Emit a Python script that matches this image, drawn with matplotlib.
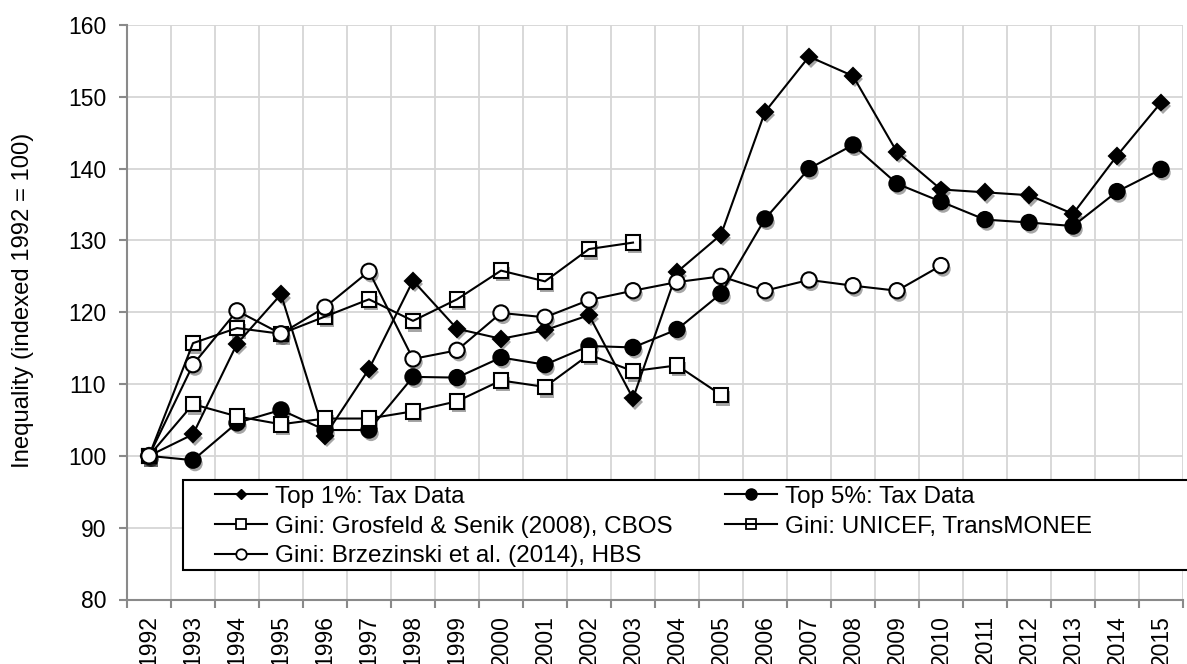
import numpy as np
import matplotlib
matplotlib.use("Agg")
import matplotlib.pyplot as plt
import matplotlib.patheffects as pe
from matplotlib.lines import Line2D
from matplotlib.patches import Rectangle

plt.rcParams['font.family'] = ['Liberation Sans', 'DejaVu Sans']

years = [str(y) for y in range(1992, 2016)]
top1 = [100, 103.0, 115.6, 122.5, 102.8, 112.1, 124.4, 117.7, 116.3, 117.5, 119.6, 108.0,
        125.6, 130.8, 147.9, 155.6, 152.9, 142.3, 137.1, 136.7, 136.3, 133.7, 141.8, 149.2]
top5 = [100, 99.4, 104.6, 106.4, 103.6, 103.6, 111.0, 110.9, 113.7, 112.7, 115.3, 115.1,
        117.6, 122.6, 133.0, 140.0, 143.3, 137.9, 135.4, 132.9, 132.5, 132.0, 136.8, 139.9]
grosfeld = [100, 107.2, 105.5, 104.4, 105.2, 105.2, 106.2, 107.6, 110.5, 109.6, 114.1, 111.8,
            112.6, 108.5]
unicef = [100, 115.7, 117.8, 117.0, 119.4, 121.8, 118.8, 121.8, 125.8, 124.3, 128.8, 129.7]
hbs = [100, 112.7, 120.2, 117.0, 120.7, 125.7, 113.5, 114.7, 119.9, 119.3, 121.7, 123.0,
       124.2, 125.0, 123.0, 124.5, 123.7, 123.0, 126.5]

labels = ["Top 1%: Tax Data", "Top 5%: Tax Data",
          "Gini: Grosfeld & Senik (2008), CBOS", "Gini: UNICEF, TransMONEE",
          "Gini: Brzezinski et al. (2014), HBS"]

W, H = 1187, 664
fig = plt.figure(figsize=(W / 100, H / 100), dpi=100)
ax = fig.add_axes([127 / W, 1 - 599.5 / H, (1183 - 127) / W, (599.5 - 25) / H])

x = np.arange(len(years))
shadow = [pe.SimplePatchShadow(offset=(1.5, -2.5), shadow_rgbFace='black', alpha=0.35), pe.Normal()]

series = [
    (top1, 'D', 'black', 8.0, False),
    (top5, 'o', 'black', 11.0, False),
    (grosfeld, 's', 'white', 10.5, False),
    (unicef, 's', 'white', 10.5, True),
    (hbs, 'o', 'white', 11.0, False),
]
z = 3
for vals, m, fc, ms, line_on_top in series:
    xs = x[:len(vals)]
    lz = z + 0.5 if line_on_top else z
    ax.plot(xs, vals, color='black', lw=1.5, zorder=lz, solid_joinstyle='round')
    ax.plot(xs, vals, linestyle='none', marker=m, ms=ms, mfc=fc, mec='black', mew=1.5,
            zorder=z + 0.2, path_effects=shadow)
    z += 1

ax.set_xlim(-0.5, len(years) - 0.5)
ax.set_ylim(80, 160)
ax.set_yticks(np.arange(80, 161, 10))
ax.set_xticks(x)
ax.set_xticklabels(years, rotation=90, fontsize=16.5)
ax.set_xticks(np.arange(-0.5, len(years), 1), minor=True)
ax.tick_params(axis='x', which='major', length=0, pad=11)
ax.tick_params(axis='x', which='minor', length=6, width=1.5, color='#8a8a8a', direction='out')
ax.tick_params(axis='y', which='major', length=6, width=1.5, color='#8a8a8a', direction='out',
               labelsize=16.5, pad=9)
ax.grid(True, axis='x', which='minor', color='#d6d6d6', lw=1.3)
ax.grid(True, axis='y', which='major', color='#d6d6d6', lw=1.3)
ax.grid(False, axis='x', which='major')
ax.set_axisbelow(True)
for s in ['top', 'right']:
    ax.spines[s].set_visible(False)
for s in ['left', 'bottom']:
    ax.spines[s].set_color('#8a8a8a')
    ax.spines[s].set_linewidth(1.5)

fig.text(23 / W, 1 - 300 / H, "Inequality (indexed 1992 = 100)", rotation=90,
         ha='center', va='center', fontsize=17.2)

# legend frame
rect = Rectangle((183 / W, 1 - 569.5 / H), (1195 - 183) / W, (569.5 - 480) / H,
                 transform=fig.transFigure, facecolor='white', edgecolor='black',
                 lw=1.5, zorder=10, clip_on=False)
fig.add_artist(rect)

unicef_marker = Line2D([], [], linestyle='none', marker='s', ms=7.5, mfc='white', mec='black', mew=1.3)
unicef_line = Line2D([], [], color='black', lw=1.5)
handles = [
    Line2D([], [], color='black', lw=1.5, marker='D', ms=5.5, mfc='black', mec='black'),
    Line2D([], [], color='black', lw=1.5, marker='o', ms=8, mfc='black', mec='black'),
    Line2D([], [], color='black', lw=1.5, marker='s', ms=7.5, mfc='white', mec='black', mew=1.3),
    (unicef_marker, unicef_line),
    Line2D([], [], color='black', lw=1.5, marker='o', ms=7.5, mfc='white', mec='black', mew=1.3),
]
order = [0, 2, 4, 1, 3]
leg = fig.legend([handles[i] for i in order], [labels[i] for i in order],
                 loc='upper left', bbox_to_anchor=(210 / W, 1 - 481 / H),
                 ncol=2, frameon=False, fontsize=17.5, handlelength=2.14,
                 handletextpad=0.33, labelspacing=0.32, columnspacing=2.14,
                 borderpad=0.2, borderaxespad=0)
leg.set_zorder(11)

fig.savefig("out.png", dpi=100)
